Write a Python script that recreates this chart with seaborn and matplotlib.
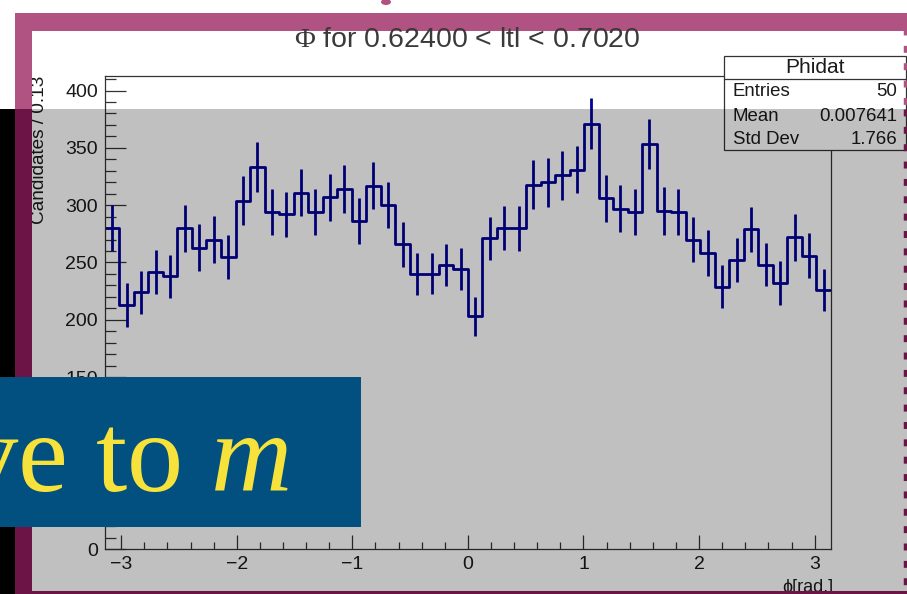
import numpy as np
import pandas as pd
import matplotlib
matplotlib.use("Agg")
import matplotlib.pyplot as plt
import seaborn as sns
from matplotlib.patches import Rectangle, Ellipse
from matplotlib.lines import Line2D
from matplotlib.ticker import MultipleLocator

# ---- histogram contents: 50 bins over [-pi, pi] ----
counts = [280, 213, 224, 242, 238, 280, 263, 270, 255, 304,
          333, 294, 292, 311, 294, 307, 314, 286, 317, 300,
          266, 240, 240, 248, 244, 203, 271, 280, 280, 318,
          320, 326, 331, 371, 306, 297, 294, 353, 295, 294,
          270, 258, 229, 252, 279, 248, 232, 272, 256, 226]
errors = [20.1, 18.9, 18.6, 19.3, 18.8, 20.5, 20.2, 20.2, 19.3, 21.1,
          21.7, 20.4, 19.9, 20.7, 20.1, 20.4, 20.7, 19.9, 20.7, 20.1,
          19.6, 18.2, 17.9, 18.5, 18.2, 17.3, 18.9, 19.2, 19.6, 21.1,
          21.5, 21.2, 20.4, 22.1, 20.4, 20.8, 20.1, 21.8, 20.7, 20.1,
          19.9, 19.9, 18.8, 19.3, 19.6, 18.9, 18.9, 20.4, 19.9, 18.2]
n_bins = 50
title_text = r"$\Phi$ for 0.62400 < ltl < 0.7020"
y_label = "Candidates / 0.13"
x_label = "ϕ[rad.]"
stats_name = "Phidat"
stats_rows = [("Entries", "50"), ("Mean", "0.007641"), ("Std Dev", "1.766")]
banner_text = "ve to $m$"

edges = np.linspace(-np.pi, np.pi, n_bins + 1)
centers = 0.5 * (edges[:-1] + edges[1:])
hist_df = pd.DataFrame({"phi": centers, "n": counts, "err": errors})

sns.set_style("ticks")
plt.rcParams["font.family"] = ["Liberation Sans", "DejaVu Sans"]
plt.rcParams["mathtext.fontset"] = "custom"
plt.rcParams["mathtext.rm"] = "Liberation Serif"
plt.rcParams["mathtext.it"] = "Liberation Serif:italic"

W, H = 907, 594
fig = plt.figure(figsize=(W / 100, H / 100), dpi=100)
fig.patch.set_facecolor("white")


def fx(x):
    return x / W


def fy(y):
    return 1 - y / H


ax = fig.add_axes([fx(104.8), fy(549), fx(831) - fx(104.8), fy(76) - fy(549)])
ax.set_facecolor("white")

line_col = "#00009a"
sns.histplot(data=hist_df, x="phi", weights="n", bins=n_bins,
             binrange=(-np.pi, np.pi), element="step", fill=False,
             color=line_col, linewidth=2.0, ax=ax)
ax.vlines(hist_df["phi"], hist_df["n"] - hist_df["err"],
          hist_df["n"] + hist_df["err"], color=line_col, linewidth=2.0)

ax.set_xlim(-np.pi, np.pi)
ax.set_ylim(0, 412.7)
ax.set_xlabel("")
ax.set_ylabel("")
ax.xaxis.set_major_locator(MultipleLocator(1))
ax.xaxis.set_minor_locator(MultipleLocator(0.2))
ax.yaxis.set_major_locator(MultipleLocator(50))
ax.yaxis.set_minor_locator(MultipleLocator(10))
for s in ax.spines.values():
    s.set_visible(True)
    s.set_color("#333333")
    s.set_linewidth(0.9)
ax.tick_params(axis="x", which="major", direction="in", length=10, width=0.9,
               color="#333333", labelsize=14, pad=5, labelcolor="#1a1a1a",
               top=False)
ax.tick_params(axis="x", which="minor", direction="in", length=5, width=0.9,
               color="#333333", top=False)
ax.tick_params(axis="y", which="major", direction="in", length=15, width=0.9,
               color="#333333", labelsize=14, pad=5, labelcolor="#1a1a1a",
               right=False)
ax.tick_params(axis="y", which="minor", direction="in", length=8, width=0.9,
               color="#333333", right=False)

# titles and axis labels
fig.text(fx(467), fy(47), title_text, ha="center", va="baseline",
         fontsize=20.5, color="#3a3a3a", zorder=13)
fig.text(fx(40), fy(76), y_label, rotation=90, ha="center", va="top",
         fontsize=13.7, color="#1a1a1a")
fig.text(fx(833), fy(587), x_label, ha="right", va="center",
         fontsize=13, color="#1a1a1a", zorder=5)

# statistics box
fig.add_artist(Rectangle((fx(724), fy(150)), fx(906) - fx(724), fy(56) - fy(150),
                         transform=fig.transFigure, facecolor="white",
                         edgecolor="#333333", linewidth=0.9, zorder=5))
fig.add_artist(Line2D([fx(724), fx(906)], [fy(79.3), fy(79.3)],
                      transform=fig.transFigure, color="#333333", linewidth=0.9,
                      zorder=6))
fig.text(fx(815), fy(67.5), stats_name, ha="center", va="center", fontsize=15,
         color="#1a1a1a", zorder=6)
for (name, val), yy in zip(stats_rows, [92, 116.5, 139]):
    fig.text(fx(733), fy(yy), name, ha="left", va="center", fontsize=13.4,
             color="#1a1a1a", zorder=6)
    fig.text(fx(897), fy(yy), val, ha="right", va="center", fontsize=13.4,
             color="#1a1a1a", zorder=6)

# grey shade over the lower part
fig.add_artist(Rectangle((0, 0), 1, fy(109), transform=fig.transFigure,
                         facecolor="black", alpha=0.247, edgecolor="none",
                         zorder=10))
fig.add_artist(Rectangle((0, 0), fx(15), fy(109), transform=fig.transFigure,
                         facecolor="black", edgecolor="none", zorder=11))

# brush-stroke frame
pink = "#b05282"
maroon = "#6c1446"


def band(x0, y0, x1, y1, col, z=12):
    fig.add_artist(Rectangle((fx(x0), fy(y1)), fx(x1) - fx(x0), fy(y0) - fy(y1),
                             transform=fig.transFigure, facecolor=col,
                             edgecolor="none", zorder=z))


band(15, 13, 907, 31, pink)
band(15, 13, 32, 109, pink)
band(15, 109, 32, 594, maroon)
band(32, 591, 907, 594, maroon)
fig.add_artist(Line2D([fx(904.5), fx(904.5)], [fy(28), fy(109)],
                      transform=fig.transFigure, color=pink, linewidth=2.5,
                      linestyle=(0, (2, 3)), zorder=12))
fig.add_artist(Line2D([fx(904.5), fx(904.5)], [fy(109), fy(594)],
                      transform=fig.transFigure, color=maroon, linewidth=2.5,
                      linestyle=(0, (2, 3)), zorder=12))
fig.add_artist(Ellipse((fx(386), fy(2)), fx(10), fy(0) - fy(6),
                       transform=fig.transFigure, facecolor=pink,
                       edgecolor="none", zorder=12))

# banner
band(0, 377, 361, 527, "#01507f", z=13)
fig.text(fx(-39), fy(491), banner_text, ha="left", va="baseline", fontsize=81,
         color="#f6e23a", family="Liberation Serif", zorder=14)

fig.savefig("out.png", dpi=100)
